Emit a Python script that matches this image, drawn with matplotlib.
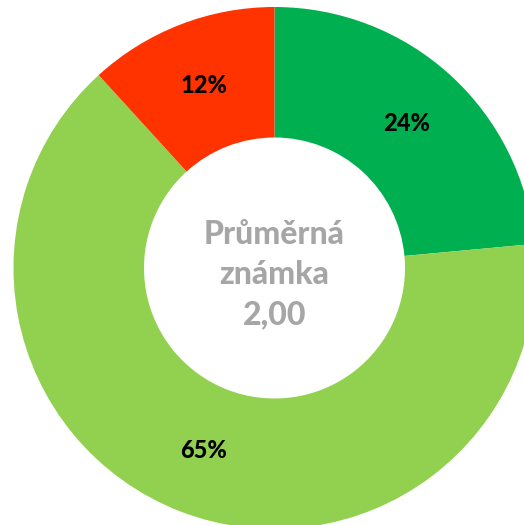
import matplotlib.pyplot as plt

# counts per grade group (shown as rounded percentages)
counts = [4, 11, 2]
colors = ["#00B050", "#92D050", "#FF3300"]
center_text = "Průměrná\nznámka\n2,00"

fig = plt.figure(figsize=(5.24, 5.25), dpi=100)
ax = fig.add_axes([0, 0, 1, 1])

wedges, texts, autotexts = ax.pie(
    counts, colors=colors, startangle=90, counterclock=False,
    radius=1.0, autopct="%.0f%%", pctdistance=0.75,
    wedgeprops=dict(width=0.5, edgecolor="none"),
    textprops=dict(fontsize=17, fontweight="black", family="Lato", color="black"),
)

ax.text(0, -0.025, center_text, ha="center", va="center", fontsize=23,
        fontweight="black", family="Lato", color="#A6A6A6", linespacing=1.45)

# figure is clipped on the right and bottom like the original
r_px = 261.0
cx, cy = 274.5, 268.0
ax.set_xlim(-cx / r_px, (524 - cx) / r_px)
ax.set_ylim(-(525 - cy) / r_px, cy / r_px)
ax.set_aspect("auto")
ax.axis("off")

fig.savefig("out.png", dpi=100)
